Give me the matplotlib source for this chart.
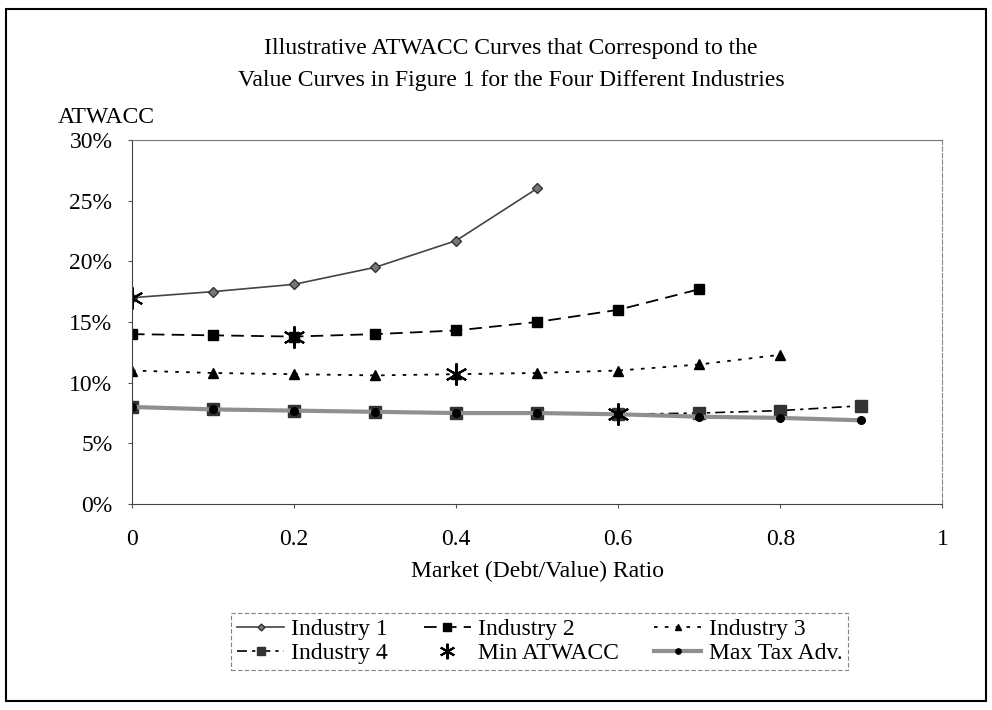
import numpy as np
import matplotlib.pyplot as plt
from matplotlib.patches import Rectangle

plt.rcParams['font.family'] = ['Liberation Serif', 'DejaVu Serif']

# Dados (ATWACC em %)
x1 = [0, 0.1, 0.2, 0.3, 0.4, 0.5]
ind1 = [17.0, 17.5, 18.1, 19.5, 21.7, 26.0]

x2 = [0, 0.1, 0.2, 0.3, 0.4, 0.5, 0.6, 0.7]
ind2 = [14.0, 13.9, 13.8, 14.0, 14.3, 15.0, 16.0, 17.7]

x3 = [0, 0.1, 0.2, 0.3, 0.4, 0.5, 0.6, 0.7, 0.8]
ind3 = [11.0, 10.8, 10.7, 10.6, 10.7, 10.8, 11.0, 11.5, 12.3]

x4 = [0, 0.1, 0.2, 0.3, 0.4, 0.5, 0.6, 0.7, 0.8, 0.9]
ind4 = [8.0, 7.8, 7.7, 7.6, 7.5, 7.5, 7.4, 7.5, 7.7, 8.1]

# Maxima vantagem fiscal
xmax = [0, 0.1, 0.2, 0.3, 0.4, 0.5, 0.6, 0.7, 0.8, 0.9]
maxtax = [8.0, 7.8, 7.7, 7.6, 7.5, 7.5, 7.4, 7.2, 7.1, 6.9]

# ATWACC minimo de cada industria
xmin = [0, 0.2, 0.4, 0.6]
minatw = [17.0, 13.8, 10.7, 7.4]

fs = 17

fig = plt.figure(figsize=(9.92, 7.10), dpi=100)
ax = fig.add_axes([0.133, 0.290, 0.817, 0.513])

# Moldura externa
fig.patches.append(Rectangle((0.006, 0.012), 0.988, 0.975, transform=fig.transFigure,
                             fill=False, edgecolor='black', lw=1.5))

l4, = ax.plot(x4, ind4, color='black', lw=1.2, dashes=(6, 3, 2, 3), marker='s', ms=8,
              mfc='#333333', mec='#333333', label='Industry 4')
lmax, = ax.plot(xmax, maxtax, color='#8f8f8f', lw=3, marker='o', ms=5.5,
                mfc='black', mec='black', label='Max Tax Adv.')
l1, = ax.plot(x1, ind1, color='#444444', lw=1.2, marker='D', ms=5,
              mfc='#777777', mec='#333333', label='Industry 1')
l2, = ax.plot(x2, ind2, color='black', lw=1.3, dashes=(7, 4), marker='s', ms=7.5,
              mfc='black', mec='black', label='Industry 2')
l3, = ax.plot(x3, ind3, color='black', lw=1.3, dashes=(2, 4), marker='^', ms=7,
              mfc='black', mec='black', label='Industry 3')
lmin, = ax.plot(xmin, minatw, ls='none', marker=(6, 2, 0), ms=16, mew=1.5,
                color='black', label='Min ATWACC')

ax.set_xlim(0, 1)
ax.set_ylim(0, 30)
ax.set_xticks([0, 0.2, 0.4, 0.6, 0.8, 1])
ax.set_xticklabels(['0', '0.2', '0.4', '0.6', '0.8', '1'])
ax.set_yticks(range(0, 31, 5))
ax.set_yticklabels([f'{v}%' for v in range(0, 31, 5)])
ax.tick_params(labelsize=fs, length=3, color='#555555')
ax.tick_params(axis='y', pad=11)
ax.tick_params(axis='x', pad=15)
for s in ax.spines.values():
    s.set_linewidth(0.8)
    s.set_color('#444444')
ax.spines['right'].set_linestyle((0, (4, 2)))
ax.spines['right'].set_color('#888888')
ax.spines['top'].set_color('#777777')

ax.set_xlabel('Market (Debt/Value) Ratio', fontsize=fs, labelpad=8)
fig.text(0.058, 0.834, 'ATWACC', fontsize=fs, ha='left', va='center')
fig.text(0.515, 0.932, 'Illustrative ATWACC Curves that Correspond to the',
         fontsize=fs, ha='center', va='center')
fig.text(0.515, 0.887, 'Value Curves in Figure 1 for the Four Different Industries',
         fontsize=fs, ha='center', va='center')

handles = [l1, l4, l2, lmin, l3, lmax]
leg = fig.legend(handles=handles, labels=[h.get_label() for h in handles],
                 ncol=3, loc='center', bbox_to_anchor=(0.544, 0.097), fontsize=17,
                 frameon=True, fancybox=False, edgecolor='#666666',
                 handlelength=2.0, handletextpad=0.3, columnspacing=1.5,
                 borderpad=0.25, labelspacing=0.1, markerscale=0.7)
leg.get_frame().set_linewidth(0.8)
leg.get_frame().set_linestyle((0, (4, 2)))

fig.savefig('out.png', dpi=100)
